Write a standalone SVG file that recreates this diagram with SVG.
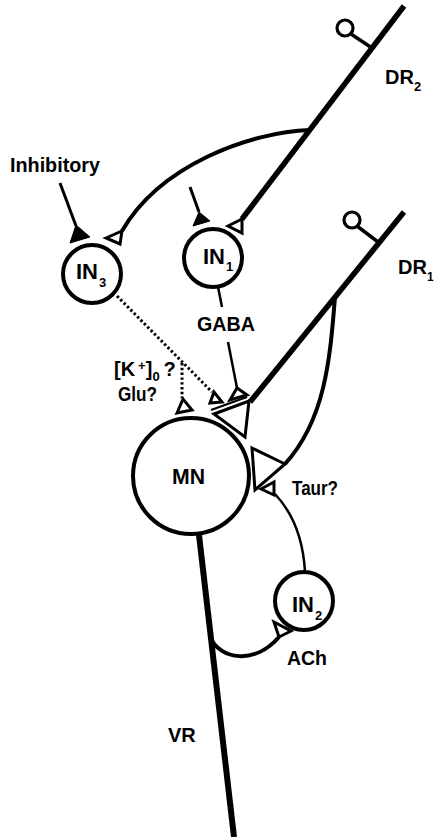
<svg xmlns="http://www.w3.org/2000/svg" width="434" height="837" viewBox="0 0 434 837">
<style>
.cell{fill:#fff;stroke:#000;stroke-width:4}
.ax{fill:none;stroke:#000;stroke-linecap:butt}
.syn{fill:#fff;stroke:#000;stroke-width:3;stroke-linejoin:miter}
.inh{fill:#000;stroke:#000;stroke-width:1;stroke-linejoin:miter}
.dot{fill:none;stroke:#000;stroke-width:3;stroke-dasharray:2.4 2.4}
.stub{fill:#fff;stroke:#000;stroke-width:3.2}
text{font-family:"Liberation Sans",Arial,sans-serif;font-weight:bold;font-size:20px;fill:#000}
.nl{font-size:22px}
.sub{font-size:13px}
</style>
<rect width="434" height="837" fill="#fff"/>
<g id="connectors">
  <!-- DR2 root -->
  <path class="ax" stroke-width="5.5" d="M404,6 L242,219"/>
  <path class="ax" stroke-width="3.5" d="M351,34 L372,48"/>
  <path class="ax" stroke-width="4" d="M310,130 C250,132 160,165 122,231"/>
  <!-- inhibitory inputs -->
  <path class="ax" stroke-width="3" d="M60,183 L76,226"/>
  <polygon class="inh" points="70,243 76,225 90,237"/>
  <path class="ax" stroke-width="3" d="M190,187 L199,212"/>
  <polygon class="inh" points="193,226 199,212 210,221"/>
  <polygon class="syn" points="106,238 122,231 120,244"/>
  <polygon class="syn" points="228,226 242,219 242,233"/>
  <!-- DR1 root -->
  <path class="ax" stroke-width="5.5" d="M404,212 L250,402"/>
  <path class="ax" stroke-width="3.5" d="M357,226 L378,242"/>
  <path class="ax" stroke-width="4" d="M335,297 C330,360 325,420 285,464"/>
  <path class="ax" stroke-width="2" d="M211,410 L247,397"/>
  <polygon class="syn" points="214,414 249,401 245,437"/>
  <polygon class="syn" points="252,448 285,464 255,490"/>
  <!-- GABA -->
  <path class="ax" stroke-width="2.5" d="M218,287 L222,307"/>
  <path class="ax" stroke-width="2.5" d="M228,342 L237,388"/>
  <polygon class="syn" points="230,400 237,388 247,395"/>
  <!-- dotted -->
  <path class="dot" d="M117,296 L212,392"/>
  <path class="dot" d="M182,363 L182,398"/>
  <polygon class="syn" points="210,403 214,392 222,402"/>
  <polygon class="syn" points="177,413 183,399 192,410"/>
  <!-- Taur -->
  <path class="ax" stroke-width="2.5" d="M305,572 C303,535 290,510 275,494"/>
  <polygon class="syn" points="261,489 274,482 274,495"/>
  <!-- VR and ACh -->
  <path class="ax" stroke-width="6" d="M199,535 L234,837"/>
  <path class="ax" stroke-width="4" d="M210,637 C220,660 255,665 279,637"/>
  <polygon class="syn" points="274,622 279,637 291,631"/>
</g>
<g id="DR2">
  <circle class="stub" cx="345" cy="28" r="8"/>
  <text x="385" y="84" font-size="18">DR<tspan class="sub" dy="7">2</tspan></text>
</g>
<g id="DR1">
  <circle class="stub" cx="352" cy="220" r="8"/>
  <text x="398" y="274" font-size="17.5">DR<tspan font-size="12" dy="7">1</tspan></text>
</g>
<g id="IN3">
  <circle class="cell" cx="92" cy="274" r="29"/>
  <text class="nl" x="76" y="279">IN<tspan class="sub" dx="1" dy="8">3</tspan></text>
</g>
<g id="IN1">
  <circle class="cell" cx="213" cy="258" r="29"/>
  <text class="nl" x="203" y="264">IN<tspan class="sub" dx="1" dy="7">1</tspan></text>
</g>
<g id="IN2">
  <circle class="cell" cx="304" cy="601" r="29"/>
  <text class="nl" x="292" y="612">IN<tspan class="sub" dx="1" dy="8">2</tspan></text>
</g>
<g id="MN">
  <circle class="cell" cx="191" cy="476" r="58" stroke-width="4.5"/>
  <text class="nl" x="172" y="484" textLength="33" lengthAdjust="spacingAndGlyphs">MN</text>
</g>
<g id="labels">
  <text x="10" y="172" textLength="90" lengthAdjust="spacingAndGlyphs">Inhibitory</text>
  <text x="197" y="331" textLength="58" lengthAdjust="spacingAndGlyphs">GABA</text>
  <text x="114" y="376" font-size="19">[K<tspan class="sub" dx="3" dy="-6">+</tspan><tspan dy="6">]</tspan><tspan class="sub" dy="5">0</tspan><tspan dx="4" dy="-5">?</tspan></text>
  <text x="118" y="401" textLength="39" lengthAdjust="spacingAndGlyphs">Glu?</text>
  <text x="292" y="495" textLength="46" lengthAdjust="spacingAndGlyphs">Taur?</text>
  <text x="287" y="665" textLength="40" lengthAdjust="spacingAndGlyphs">ACh</text>
  <text x="168" y="742" font-size="21">VR</text>
</g>
</svg>
